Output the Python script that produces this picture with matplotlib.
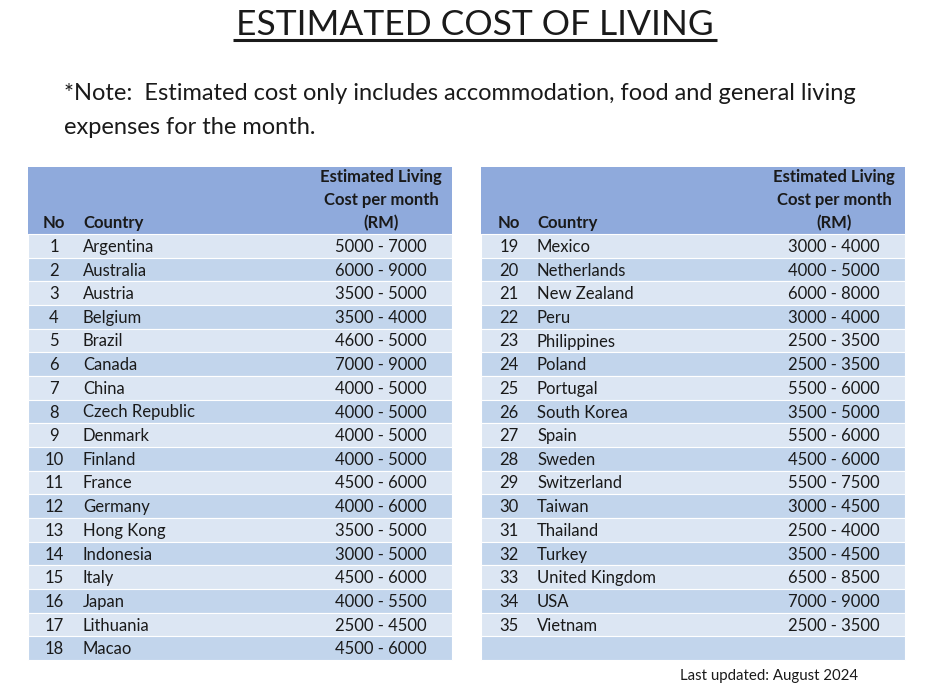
import matplotlib
matplotlib.use("Agg")
import matplotlib.pyplot as plt
from matplotlib.patches import Rectangle

## Global font settings (Calibri is not available, Lato is close enough)
plt.rcParams["font.family"] = ["Lato", "DejaVu Sans"]

## Table data
nos = list(range(1, 36))
countries = ["Argentina", "Australia", "Austria", "Belgium", "Brazil", "Canada",
             "China", "Czech Republic", "Denmark", "Finland", "France", "Germany",
             "Hong Kong", "Indonesia", "Italy", "Japan", "Lithuania", "Macao",
             "Mexico", "Netherlands", "New Zealand", "Peru", "Philippines", "Poland",
             "Portugal", "South Korea", "Spain", "Sweden", "Switzerland", "Taiwan",
             "Thailand", "Turkey", "United Kingdom", "USA", "Vietnam"]
costs = ["5000 - 7000", "6000 - 9000", "3500 - 5000", "3500 - 4000", "4600 - 5000",
         "7000 - 9000", "4000 - 5000", "4000 - 5000", "4000 - 5000", "4000 - 5000",
         "4500 - 6000", "4000 - 6000", "3500 - 5000", "3000 - 5000", "4500 - 6000",
         "4000 - 5500", "2500 - 4500", "4500 - 6000",
         "3000 - 4000", "4000 - 5000", "6000 - 8000", "3000 - 4000", "2500 - 3500",
         "2500 - 3500", "5500 - 6000", "3500 - 5000", "5500 - 6000", "4500 - 6000",
         "5500 - 7500", "3000 - 4500", "2500 - 4000", "3500 - 4500", "6500 - 8500",
         "7000 - 9000", "2500 - 3500"]

title = "ESTIMATED COST OF LIVING"
note_lines = ["*Note:  Estimated cost only includes accommodation, food and general living",
              "expenses for the month."]
footer = "Last updated: August 2024"
header_cost = ["Estimated Living", "Cost per month", "(RM)"]

## Colours
HEADER = "#8faadc"
LIGHT = "#dce6f3"
DARK = "#c2d5ec"
TEXT = "#1a1a1a"

fig = plt.figure(figsize=(9.4, 7.0), dpi=100)
ax = fig.add_axes([0, 0, 1, 1])
ax.set_xlim(0, 940)
ax.set_ylim(700, 0)
ax.axis("off")

## Title + underline
ax.text(475, 35, title, ha="center", va="baseline", fontsize=25.5, color=TEXT)
ax.plot([233, 717], [40, 40], color=TEXT, linewidth=2.2, solid_capstyle="butt")

## Note
ax.text(64, 94, note_lines[0], ha="left", va="center", fontsize=17, color=TEXT)
ax.text(64, 127, note_lines[1], ha="left", va="center", fontsize=17, color=TEXT)

## Table layout
head_top, head_bot = 167, 234
row_h = (660 - 234) / 18
n_rows = 18


def draw_table(x0, x1, no_x, country_x, cost_x, rows):
	## header block
	ax.add_patch(Rectangle((x0, head_top), x1 - x0, head_bot - head_top,
	                       facecolor=HEADER, edgecolor="none"))
	for i, line in enumerate(header_cost):
		ax.text(cost_x, 177 + i * 23, line, ha="center", va="center",
		        fontsize=12, fontweight="bold", color=TEXT)
	ax.text(no_x, 223, "No", ha="center", va="center", fontsize=12,
	        fontweight="bold", color=TEXT)
	ax.text(country_x, 223, "Country", ha="left", va="center", fontsize=12,
	        fontweight="bold", color=TEXT)

	## body rows
	for r in range(n_rows):
		y = head_bot + r * row_h
		col = LIGHT if r % 2 == 0 else DARK
		ax.add_patch(Rectangle((x0, y), x1 - x0, row_h, facecolor=col,
		                       edgecolor="white", linewidth=0.8))
		if r < len(rows):
			i = rows[r]
			yc = y + row_h / 2 + 1
			ax.text(no_x, yc, str(nos[i]), ha="center", va="center",
			        fontsize=12, color=TEXT)
			ax.text(country_x, yc, countries[i], ha="left", va="center",
			        fontsize=12, color=TEXT)
			ax.text(cost_x, yc, costs[i], ha="center", va="center",
			        fontsize=12, color=TEXT)


draw_table(28, 452, 54, 83, 381, list(range(0, 18)))
draw_table(481, 905, 509, 537, 834, list(range(18, 35)))

## Footer
ax.text(858, 676, footer, ha="right", va="center", fontsize=10.8, color=TEXT)

fig.savefig("out.png", dpi=100)
